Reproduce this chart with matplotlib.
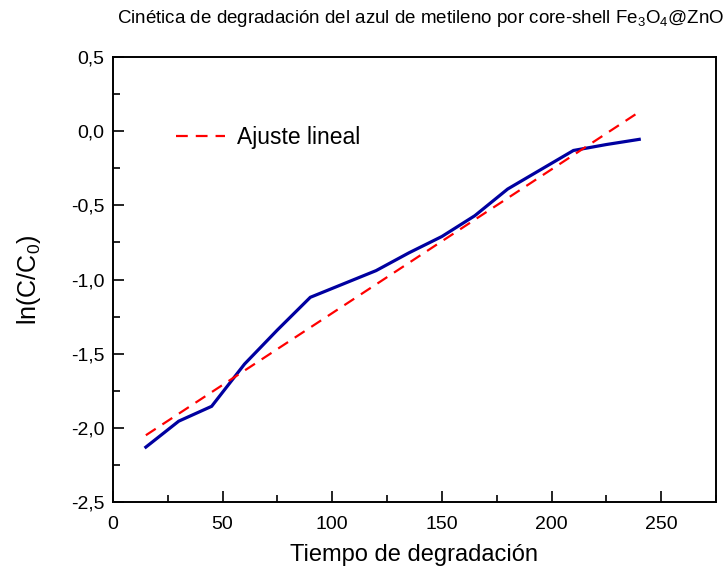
import matplotlib
matplotlib.use("Agg")
import matplotlib.pyplot as plt
from matplotlib.ticker import MultipleLocator, FuncFormatter

plt.rcParams["font.family"] = ["Liberation Sans", "DejaVu Sans"]
plt.rcParams["mathtext.default"] = "regular"

# Degradation time (min) and ln(C/C0)
tiempo = [15, 30, 45, 60, 75, 90, 105, 120, 135, 150, 165, 180, 195, 210, 225, 240]
ln_c = [-2.13, -1.955, -1.855, -1.57, -1.34, -1.12, -1.03, -0.94, -0.82, -0.71,
        -0.57, -0.39, -0.26, -0.13, -0.09, -0.055]

# Linear fit line endpoints
ajuste_x = [15, 240]
ajuste_y = [-2.05, 0.13]

fig = plt.figure(figsize=(7.26, 5.72), dpi=100)
ax = fig.add_axes([0.1556, 0.1224, 0.8306, 0.7779])

ax.plot(tiempo, ln_c, color="#0000a0", lw=2.3, solid_joinstyle="miter")
ax.plot(ajuste_x, ajuste_y, color="#ff0000", lw=1.6, ls=(0, (5.3, 3.6)),
        label="Ajuste lineal")

ax.set_xlim(0, 275)
ax.set_ylim(-2.5, 0.5)
ax.xaxis.set_major_locator(MultipleLocator(50))
ax.xaxis.set_minor_locator(MultipleLocator(25))
ax.yaxis.set_major_locator(MultipleLocator(0.5))
ax.yaxis.set_minor_locator(MultipleLocator(0.25))

comma = FuncFormatter(lambda v, p: f"{v:.1f}".replace(".", ",").replace("-0,0", "0,0"))
ax.yaxis.set_major_formatter(comma)
ax.xaxis.set_major_formatter(FuncFormatter(lambda v, p: f"{v:.0f}"))

ax.tick_params(which="both", direction="in", top=False, right=False,
               labelsize=14, width=1.2)
ax.tick_params(which="major", length=8)
ax.tick_params(which="minor", length=5)
ax.tick_params(axis="y", which="major", pad=6)
ax.tick_params(axis="x", which="major", pad=10)
for s in ax.spines.values():
    s.set_linewidth(1.4)

ax.set_xlabel("Tiempo de degradación", fontsize=17, labelpad=8)
ax.set_ylabel("ln(C/C$_0$)", fontsize=18)
ax.yaxis.set_label_coords(-0.116, 0.5)

fig.text(0.997, 0.968,
         "Cinética de degradación del azul de metileno por core-shell Fe$_3$O$_4$@ZnO",
         ha="right", va="center", fontsize=13.5)

ax.legend(loc="upper left", bbox_to_anchor=(0.071, 0.892), frameon=False,
          fontsize=16.5, handlelength=2.1, handletextpad=0.55)

fig.savefig("out.png", dpi=100)
